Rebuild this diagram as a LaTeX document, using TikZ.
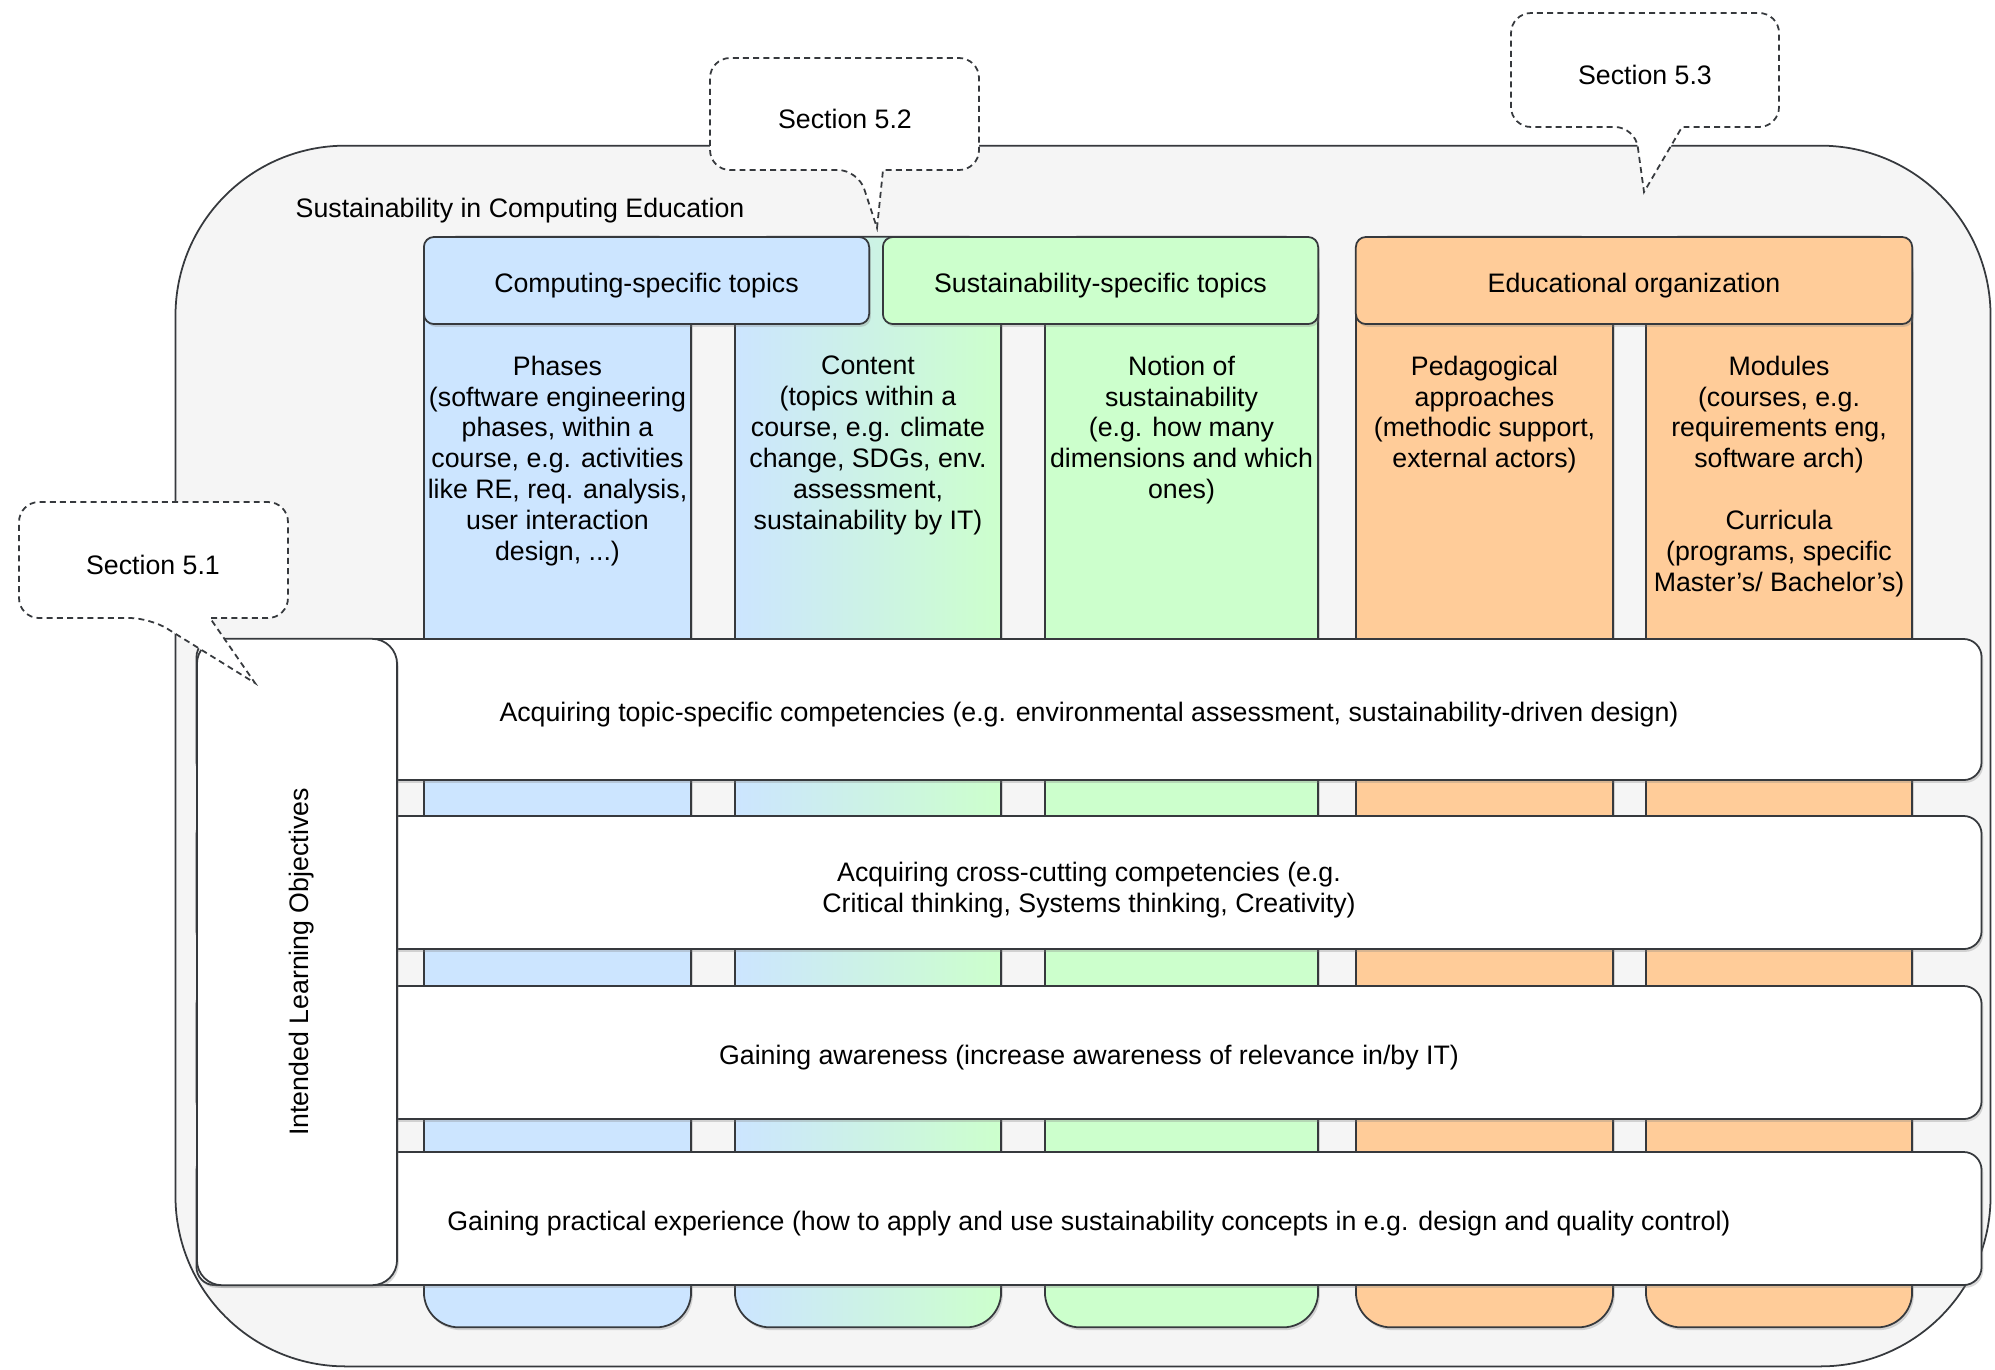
\documentclass[tikz,border=0pt]{standalone}
\usepackage{fontspec}
\setmainfont{Liberation Sans}
\usetikzlibrary{shadows}

\definecolor{cblue}{HTML}{CCE5FF}
\definecolor{cgreen}{HTML}{CCFFCC}
\definecolor{corange}{HTML}{FFCC99}
\definecolor{cline}{HTML}{36393D}
\definecolor{cbg}{HTML}{F5F5F5}

\begin{document}
\begin{tikzpicture}[x=0.01cm, y=-0.01cm,
	every node/.style={font=\fontsize{7.6}{8.8}\selectfont, text=black},
	txt/.style={execute at begin node={\rule{0pt}{8.2pt}}},
	shd/.style={drop shadow={shadow xshift=0.5pt, shadow yshift=-0.8pt, opacity=0.3}},
	hdr/.style={draw=cline, line width=0.5pt, rounded corners=0.1cm, minimum height=0.87cm, inner sep=0pt, txt, shd},
	col/.style={draw=cline, line width=0.5pt, rounded corners=0.35cm, minimum height=10.9cm, inner sep=0pt, shd},
	coltext/.style={anchor=north, align=center, inner sep=0pt},
	bar/.style={draw=cline, fill=white, line width=0.5pt, rounded corners=0.18cm, minimum width=17.84cm, align=center, inner sep=0pt, txt, shd},
	secbox/.style={draw=cline, fill=white, line width=0.5pt, dash pattern=on 1.7pt off 1.2pt}
]
	\useasboundingbox (0,0) rectangle (1995,1369);

	% outer frame
	\node[draw=cline, fill=cbg, line width=0.5pt, rounded corners=1.7cm, minimum width=18.14cm, minimum height=12.2cm, inner sep=0pt] (sce) at (1083,756) {};
	\node[anchor=west, inner sep=0pt, txt] (sceT) at (295,206) {Sustainability in Computing Education};

	% columns
	\node[col, fill=cblue, minimum width=2.67cm] (phases) at (557.5,782) {};
	\node[col, left color=cblue, right color=cgreen, minimum width=2.66cm] (content) at (868,782) {};
	\node[col, fill=cgreen, minimum width=2.73cm] (notion) at (1181.5,782) {};
	\node[col, fill=corange, minimum width=2.57cm] (pedag) at (1484.5,782) {};
	\node[col, fill=corange, minimum width=2.66cm] (modules) at (1779,782) {};

	\node[coltext] (phasesT) at (557.5,355) {Phases\\(software engineering\\phases, within a\\course, e.g. activities\\like RE, req. analysis,\\user interaction\\design, ...)};
	\node[coltext] (contentT) at (868,355) {Content\\(topics within a\\course, e.g. climate\\change, SDGs, env.\\assessment,\\sustainability by IT)};
	\node[coltext] (notionT) at (1181.5,355) {Notion of\\sustainability\\(e.g. how many\\dimensions and which\\ones)};
	\node[coltext] (pedagT) at (1484.5,355) {Pedagogical\\approaches\\(methodic support,\\external actors)};
	\node[coltext] (modulesT) at (1779,355) {Modules\\(courses, e.g.\\requirements eng,\\software arch)\\[8.8pt]Curricula\\(programs, specific\\Master's/ Bachelor's)};

	% headers
	\node[hdr, fill=cblue, minimum width=4.45cm] (comp) at (646.5,280.5) {Computing-specific topics};
	\node[hdr, fill=cgreen, minimum width=4.35cm] (sust) at (1100.5,280.5) {Sustainability-specific topics};
	\node[hdr, fill=corange, minimum width=5.56cm] (edu) at (1634,280.5) {Educational organization};

	% learning objectives
	\node[bar, minimum height=1.41cm] (topic) at (1089,709.5) {Acquiring topic-specific competencies (e.g. environmental assessment, sustainability-driven design)};
	\node[bar, minimum height=1.33cm] (cross) at (1089,882.5) {\rule{0pt}{9.9pt}Acquiring cross-cutting competencies (e.g.\\Critical thinking, Systems thinking, Creativity)};
	\node[bar, minimum height=1.33cm] (aware) at (1089,1052.5) {Gaining awareness (increase awareness of relevance in/by IT)};
	\node[bar, minimum height=1.33cm] (practice) at (1089,1218.5) {Gaining practical experience (how to apply and use sustainability concepts in e.g. design and quality control)};

	\node[draw=cline, fill=white, line width=0.5pt, rounded corners=0.25cm, minimum width=2cm, minimum height=6.46cm, inner sep=0pt, shd] (ilo) at (297,962) {};
	\node[rotate=90, inner sep=0pt, txt] (iloT) at (297,962) {Intended Learning Objectives};

	% section callouts
	\draw[secbox] (858,170) -- (877,228) -- (883,170) [rounded corners=0.2cm] -- (979,170) -- (979,58) -- (710,58) -- (710,170) -- cycle;
	\node[txt] (sec52) at (845,114) {Section 5.2};
	\draw[secbox] (1635,127) -- (1644,192) -- (1682,127) [rounded corners=0.2cm] -- (1779,127) -- (1779,13) -- (1511,13) -- (1511,127) -- cycle;
	\node[txt] (sec53) at (1645,70) {Section 5.3};
	\draw[secbox] (150,618) -- (255,683) -- (210,618) [rounded corners=0.2cm] -- (288,618) -- (288,502) -- (19,502) -- (19,618) -- cycle;
	\node[txt] (sec51) at (153,560) {Section 5.1};

\end{tikzpicture}
\end{document}
